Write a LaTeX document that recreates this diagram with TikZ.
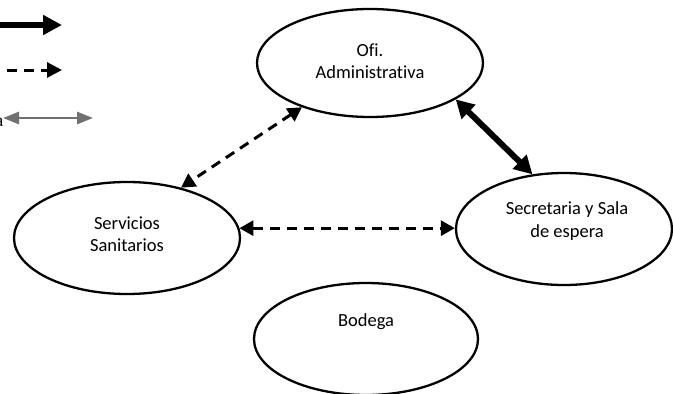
\documentclass[tikz,border=0pt]{standalone}
\usepackage{fontspec}
\setmainfont{Carlito}[RawFeature={-liga;-dlig;-clig}]
\newfontfamily\legendfont{Liberation Serif}
\usetikzlibrary{shapes.geometric,arrows.meta}
\begin{document}
\begin{tikzpicture}[x=1pt,y=-1pt,
  place/.style={ellipse,draw,line width=2.3pt,inner sep=0pt,minimum width=#1},
  txt/.style={align=center,font=\fontsize{18.5}{22.5}\selectfont},
  thickarrow/.style={line width=6pt,{Triangle[length=18pt,width=19pt]}-{Triangle[length=18pt,width=19pt]}},
  dasharrow/.style={line width=3pt,dash pattern=on 10pt off 7pt,{Triangle[length=14pt,width=15pt]}-{Triangle[length=14pt,width=15pt]}},
  grayarrow/.style={line width=2.5pt,draw={rgb,255:red,112;green,112;blue,112},{Triangle[length=16pt,width=12pt]}-{Triangle[length=16pt,width=12pt]}}
]
\useasboundingbox (0,0) rectangle (673,394);
% places
\node[place=226pt,minimum height=108pt,label={[txt,yshift=2pt]center:Ofi.\\Administrativa}] (ofi) at (370,63) {};
\node[place=226pt,minimum height=112pt,label={[txt,yshift=4pt]center:Servicios\\Sanitarios}] (serv) at (127,238) {};
\node[place=216pt,minimum height=112pt,label={[txt,yshift=8pt,xshift=3pt]center:Secretaria y Sala\\de espera}] (sec) at (564,229) {};
\node[place=224pt,minimum height=112pt,label={[txt,yshift=17pt]center:Bodega}] (bod) at (366,339) {};
% connectors
\draw[thickarrow] (ofi.-23) -- (sec.120);
\draw[dasharrow] (ofi.-147) -- (serv.43);
\draw[dasharrow] (serv.5) -- (serv.5 -| sec.west);
% legend
\coordinate (l1a) at (-10,25);
\coordinate (l1b) at (62,25);
\coordinate (l2a) at (-10,70);
\coordinate (l2b) at (62,70);
\coordinate (l3a) at (3,118);
\coordinate (l3b) at (93,118);
\draw[line width=6pt,-{Triangle[length=19pt,width=19pt]}] (l1a) -- (l1b);
\draw[line width=3pt,dash pattern=on 10pt off 7pt,-{Triangle[length=15pt,width=15pt]}] (l2a) -- (l2b);
\draw[grayarrow] (l3a) -- (l3b);
\node[anchor=base east,inner sep=0pt,font=\legendfont\fontsize{18}{22}\selectfont] (leg3) at (3.5,126) {a};
\end{tikzpicture}
\end{document}
